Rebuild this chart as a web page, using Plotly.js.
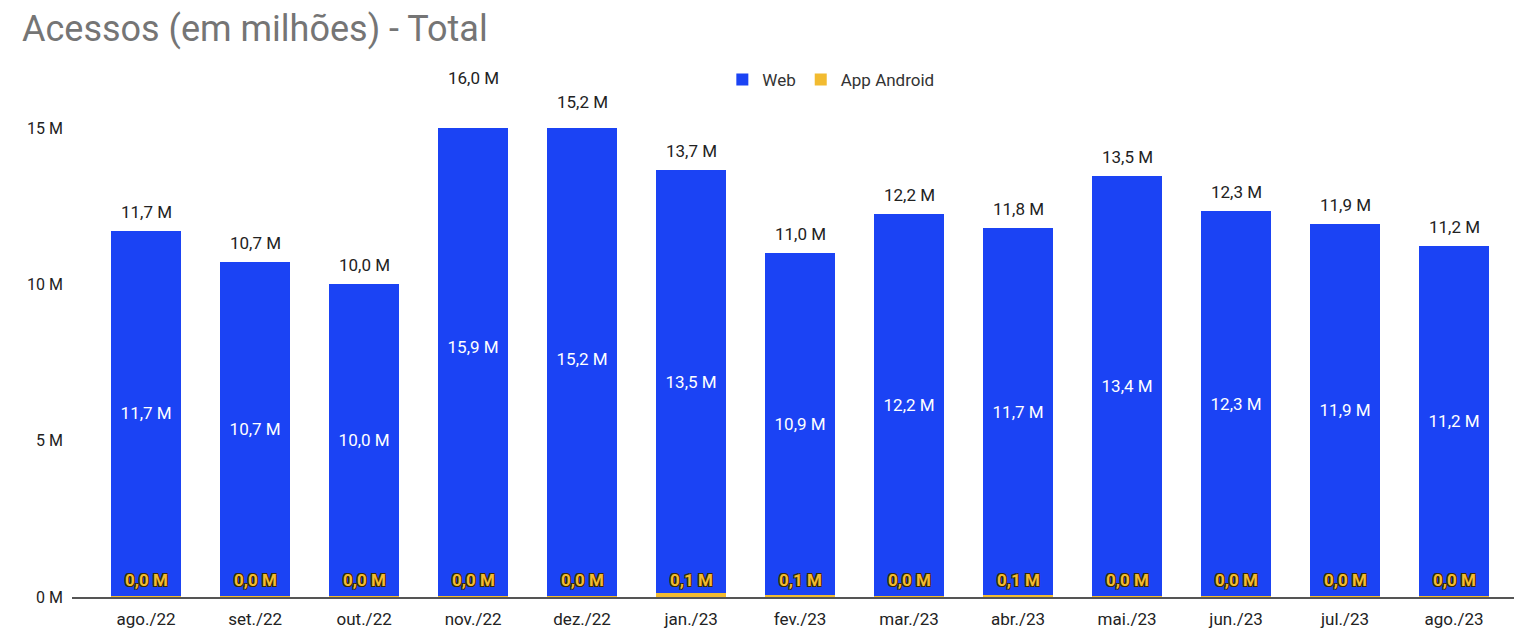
<!DOCTYPE html>
<html>
<head>
<meta charset="utf-8">
<script src="https://cdn.plot.ly/plotly-3.0.1.min.js"></script>
<style>html,body{margin:0;padding:0;background:#fff;}#chart{width:1514px;height:630px;}</style>
</head>
<body>
<div id="chart"></div>
<script>
const months = ["ago./22","set./22","out./22","nov./22","dez./22","jan./23","fev./23","mar./23","abr./23","mai./23","jun./23","jul./23","ago./23"];
const webValues = [11.7, 10.7, 10.0, 15.94, 15.2, 13.54, 10.93, 12.2, 11.73, 13.44, 12.3, 11.9, 11.2];
const androidValues = [0.02, 0.02, 0.02, 0.04, 0.02, 0.12, 0.07, 0.04, 0.06, 0.04, 0.03, 0.03, 0.02];
const yTicks = [0, 5, 10, 15];
const axisMax = 15;

const totals = webValues.map((v, i) => v + androidValues[i]);
const fmt = v => v.toFixed(1).replace(".", ",") + " M";
const FONT = "Roboto, 'Noto Sans', sans-serif";
const BLUE = "#1b43f4";
const GOLD = "#f2bb30";

const data = [
  {
    type: "bar", name: "App Android", x: months, y: androidValues,
    marker: {color: GOLD}, textposition: "none", hoverinfo: "skip", legendrank: 2
  },
  {
    type: "bar", name: "Web", x: months, y: webValues,
    marker: {color: BLUE},
    texttemplate: "%{y:.1f} M", textposition: "inside", insidetextanchor: "middle",
    textfont: {color: "#ffffff", size: 17, family: FONT},
    constraintext: "none", hoverinfo: "skip", legendrank: 1
  }
];

const annotations = [];
months.forEach((m, i) => {
  annotations.push({
    x: m, y: totals[i], xref: "x", yref: "y", text: fmt(totals[i]), showarrow: false,
    yanchor: "bottom", yshift: 7, font: {size: 17, color: "#222222", family: FONT}
  });
  annotations.push({
    x: m, y: 0, xref: "x", yref: "y", text: fmt(androidValues[i]), showarrow: false,
    yanchor: "middle", yshift: 17,
    font: {size: 17, color: GOLD, family: FONT, weight: 700,
      shadow: "1px 1px 0 #3a2a00, -1px -1px 0 #3a2a00, 1px -1px 0 #3a2a00, -1px 1px 0 #3a2a00"}
  });
});

const plotTop = 60, plotBottom = 597, px15 = 128;
const yTop = axisMax * (plotBottom - plotTop) / (plotBottom - px15);

const layout = {
  width: 1514, height: 630,
  margin: {l: 72, r: 0, t: plotTop, b: 630 - plotBottom},
  paper_bgcolor: "#ffffff", plot_bgcolor: "#ffffff",
  separators: ",.",
  barmode: "stack", bargap: 0.36,
  font: {family: FONT, color: "#222222", size: 16},
  title: {text: "Acessos (em milhões) - Total", x: 0, xref: "container", xanchor: "left",
    y: 1, yref: "container", yanchor: "top", pad: {t: 16, l: 22},
    font: {family: FONT, size: 36, color: "#757575"}},
  xaxis: {
    type: "category", range: [-0.68, 12.55], fixedrange: true,
    showline: true, linecolor: "#555555", linewidth: 1.5,
    ticks: "", showgrid: false, zeroline: false, ticklabelstandoff: 6,
    tickfont: {size: 17, color: "#222222", family: FONT}
  },
  yaxis: {
    range: [0, yTop], tickvals: yTicks, ticktext: yTicks.map(t => t + " M"),
    showgrid: false, zeroline: false, showline: false, ticks: "",
    tickfont: {size: 16, color: "#222222", family: FONT}, ticklabelstandoff: 8
  },
  shapes: [{
    type: "rect", layer: "above", xref: "paper", x0: 0, x1: 1, yref: "y", y0: axisMax, y1: yTop,
    fillcolor: "#ffffff", line: {width: 0}
  }],
  annotations: annotations,
  legend: {
    orientation: "h", x: 0.451, xanchor: "left", y: (plotBottom - 80) / (plotBottom - plotTop), yanchor: "middle",
    font: {size: 17, color: "#333333", family: FONT}, traceorder: "normal"
  },
  showlegend: true
};

Plotly.newPlot("chart", data, layout, {staticPlot: true, displayModeBar: false});
</script>
</body>
</html>
